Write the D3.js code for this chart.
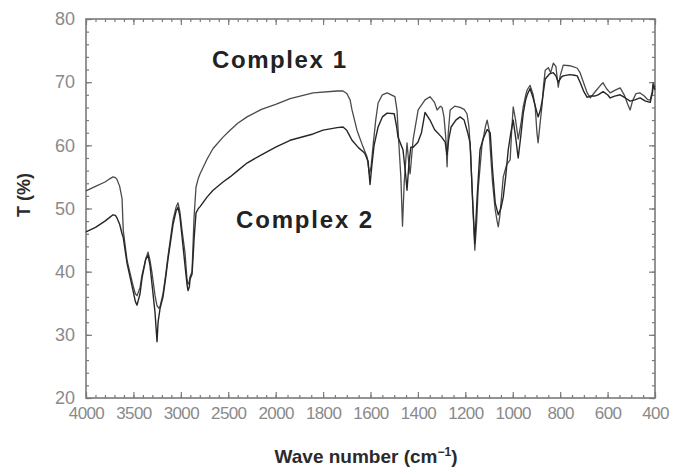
<!DOCTYPE html>
<html>
<head>
<meta charset="utf-8">
<script src="https://cdn.jsdelivr.net/npm/d3@7"></script>
<style>
  body { margin: 0; background: #fff; }
  svg { display: block; }
</style>
</head>
<body>
<svg id="chart" width="677" height="474"></svg>
<script>
// Axis ticks
const xTickLabels = [4000, 3500, 3000, 2500, 2000, 1800, 1600, 1400, 1200, 1000, 800, 600, 400];
const yTickLabels = [20, 30, 40, 50, 60, 70, 80];
const seriesNames = ["Complex 1", "Complex 2"];

// IR transmittance spectra: [wave number (cm-1), T (%)]
const complex1 = [
  [4000,52.8],[3900,53.5],[3800,54.2],[3750,54.7],[3715,55.0],[3690,54.9],[3673,54.6],[3645,53.5],
  [3620,51.6],[3607,46.5],[3567,41.8],[3504,37.8],[3480,36.5],[3462,36.2],[3430,37.5],[3409,39.5],
  [3370,42],[3346,43.1],[3325,41.8],[3304,39.8],[3272,36.2],[3251,34.6],[3230,34.2],[3219,34.5],
  [3188,36.5],[3160,39.5],[3135,42.5],[3082,48.2],[3050,50.2],[3030,50.9],[3010,49.5],[2987,46.5],
  [2956,43],[2935,38.8],[2924,38],[2910,38.5],[2903,39.2],[2882,40],[2872,44],[2861,48.5],
  [2840,53.4],[2815,54.8],[2797,55.5],[2724,57.8],[2660,59.5],[2555,61.3],[2481,62.4],[2400,63.5],
  [2302,64.5],[2150,65.7],[2000,66.5],[1939,67.4],[1842,68.3],[1741,68.6],[1716,68.6],[1700,68.2],
  [1686,67.2],[1678,65.6],[1657,62.4],[1632,59.8],[1615,58.2],[1605,55.5],[1598,56.5],[1589,60],
  [1578,64],[1568,66.7],[1550,68],[1530,68.3],[1497,67.7],[1488,65.5],[1480,60],[1472,55],
  [1465,47.2],[1458,54],[1446,60.4],[1438,57],[1433,55.5],[1427,58],[1420,61],[1399,65.6],
  [1370,67.2],[1349,67.7],[1330,66.8],[1319,65.6],[1305,66.2],[1298,66],[1290,64.5],[1282,61],
  [1277,56.6],[1272,62],[1264,65.6],[1245,66.2],[1222,66],[1205,65.7],[1193,65],[1185,63],
  [1178,59],[1168,50],[1160,43.4],[1152,48],[1146,53],[1130,60],[1115,63],[1108,64],
  [1100,62.5],[1095,59.5],[1085,54],[1074,49.8],[1066,48],[1061,47.1],[1054,49],[1040,55],
  [1025,57],[1011,57.7],[1005,62],[998,66.1],[988,64],[977,61],[965,63.5],[956,66.1],
  [945,68],[939,68.8],[927,69.5],[914,68],[905,66],[898,62],[893,60.4],[886,63],
  [876,66.5],[870,69.5],[863,71.9],[850,72.3],[840,71.5],[829,73],[818,72.5],[808,69.2],
  [800,71],[787,72.7],[760,72.6],[740,72.4],[728,72.2],[716,71.5],[700,69.8],[686,68.3],
  [673,67.5],[650,68.6],[630,69.5],[619,69.9],[605,69],[589,68.3],[570,68.7],[547,69.1],
  [530,68],[515,66.5],[505,65.6],[495,67],[480,68.2],[463,68.3],[445,67.8],[430,67.2],
  [420,67.2],[412,68.5],[408,69.9],[400,69.2]
];

const complex2 = [
  [4000,46.3],[3900,47],[3800,48],[3750,48.6],[3715,49],[3690,48.9],[3673,48.5],[3645,47.5],
  [3620,46],[3607,45.4],[3567,41.3],[3504,37],[3480,35.3],[3462,34.7],[3430,36.5],[3409,39],
  [3370,42],[3346,42.6],[3325,41],[3304,38],[3272,33.5],[3251,28.9],[3240,32],[3219,34.2],
  [3188,36],[3160,39],[3135,42],[3082,47.5],[3050,49.6],[3030,50.2],[3010,48.8],[2987,45.5],
  [2956,41],[2935,38],[2924,37],[2910,37.6],[2903,38.8],[2882,39.6],[2872,42],[2861,45],
  [2840,49.3],[2815,50],[2797,50.3],[2724,51.8],[2660,52.9],[2555,54.2],[2481,55],[2400,56],
  [2302,57.2],[2150,58.5],[2000,59.7],[1939,60.8],[1842,61.8],[1800,62.4],[1741,62.8],[1716,62.9],
  [1700,62.4],[1695,62],[1678,60.8],[1650,59.6],[1625,58.8],[1610,57.5],[1602,53.8],[1595,56.6],
  [1585,60],[1568,62.9],[1550,64.5],[1530,65.1],[1500,65],[1490,63],[1484,61.3],[1463,59.3],
  [1452,55.5],[1446,52.9],[1438,57],[1430,59.7],[1420,59.7],[1400,60.5],[1385,62],[1370,65.2],
  [1349,64],[1330,62.5],[1300,61.3],[1285,60.5],[1277,58.5],[1270,61],[1260,62.9],[1240,64],
  [1222,64.5],[1205,64],[1190,62],[1180,60.4],[1170,52],[1160,44.5],[1150,52],[1138,59.3],
  [1125,61],[1108,62.5],[1095,62],[1085,56],[1074,50.9],[1061,49],[1050,50],[1040,51.8],
  [1030,55],[1019,59.3],[1008,62],[998,64],[987,61],[977,58],[966,61.5],[956,65],
  [945,67.3],[939,68],[927,69],[914,67.5],[900,65.5],[893,64.5],[884,65.5],[876,67],
  [863,70.5],[845,71.3],[829,71.5],[818,71],[808,70],[795,70.8],[787,71],[760,71.2],
  [740,71.1],[728,71],[716,70],[700,68.5],[686,67.6],[673,67.8],[655,67.8],[640,68],
  [619,68.5],[600,68],[589,67.5],[570,67.8],[547,68],[525,67.5],[505,67],[485,67.2],
  [463,67.5],[440,67],[420,66.8],[410,68.5],[408,69.5],[400,68.8]
];

const svg = d3.select("#chart");
const plotLeft = 86, plotRight = 655, plotTop = 19, plotBottom = 398;
const axisColor = "#7a7a7a";
const tickFont = "'Liberation Sans', Arial, sans-serif";

// Wave number axis changes scale at 2000 cm-1
const x = d3.scaleLinear()
  .domain([4000, 2000, 400])
  .range([plotLeft, plotLeft + (plotRight - plotLeft) * 4 / 12, plotRight]);
const y = d3.scaleLinear().domain([20, 80]).range([plotBottom, plotTop]);

// Minor ticks
const xMinor = d3.range(4000, 2000, -100).concat(d3.range(2000, 399, -50));
const yMinor = d3.range(20, 81, 2);

const frame = svg.append("g");

function styleAxis(g) {
  g.select(".domain").remove();
  g.selectAll("line").attr("stroke", axisColor).attr("stroke-width", 1.2);
}

// bottom
frame.append("g").attr("transform", `translate(0,${plotBottom})`)
  .call(d3.axisBottom(x).tickValues(xMinor).tickSize(-3).tickFormat(""))
  .call(styleAxis);
frame.append("g").attr("transform", `translate(0,${plotBottom})`)
  .call(d3.axisBottom(x).tickValues(xTickLabels).tickSize(-6).tickPadding(9).tickFormat(d3.format("d")))
  .call(styleAxis)
  .call(g => g.selectAll("text")
    .attr("fill", "#8a8a8a").attr("font-family", tickFont).attr("font-size", 17)
    .attr("letter-spacing", -0.6));
// top
frame.append("g").attr("transform", `translate(0,${plotTop})`)
  .call(d3.axisTop(x).tickValues(xMinor).tickSize(-3).tickFormat(""))
  .call(styleAxis);
frame.append("g").attr("transform", `translate(0,${plotTop})`)
  .call(d3.axisTop(x).tickValues(xTickLabels).tickSize(-6).tickFormat(""))
  .call(styleAxis);
// left
frame.append("g").attr("transform", `translate(${plotLeft},0)`)
  .call(d3.axisLeft(y).tickValues(yMinor).tickSize(-3).tickFormat(""))
  .call(styleAxis);
frame.append("g").attr("transform", `translate(${plotLeft},0)`)
  .call(d3.axisLeft(y).tickValues(yTickLabels).tickSize(-6).tickPadding(11).tickFormat(d3.format("d")))
  .call(styleAxis)
  .call(g => g.selectAll("text")
    .attr("fill", "#8a8a8a").attr("font-family", tickFont).attr("font-size", 18));
// right
frame.append("g").attr("transform", `translate(${plotRight},0)`)
  .call(d3.axisRight(y).tickValues(yMinor).tickSize(-3).tickFormat(""))
  .call(styleAxis);
frame.append("g").attr("transform", `translate(${plotRight},0)`)
  .call(d3.axisRight(y).tickValues(yTickLabels).tickSize(-6).tickFormat(""))
  .call(styleAxis);

frame.append("rect")
  .attr("x", plotLeft).attr("y", plotTop)
  .attr("width", plotRight - plotLeft).attr("height", plotBottom - plotTop)
  .attr("fill", "none").attr("stroke", axisColor).attr("stroke-width", 1.6);

// Spectra
const line = d3.line().x(d => x(d[0])).y(d => y(d[1]));
svg.append("path").datum(complex1)
  .attr("d", line).attr("fill", "none")
  .attr("stroke", "#4a4a4a").attr("stroke-width", 1.3).attr("stroke-linejoin", "round");
svg.append("path").datum(complex2)
  .attr("d", line).attr("fill", "none")
  .attr("stroke", "#262626").attr("stroke-width", 1.4).attr("stroke-linejoin", "round");

// Series labels
const labelFont = "'Liberation Sans', Arial, sans-serif";
svg.append("text").attr("x", 212).attr("y", 68)
  .attr("font-family", labelFont).attr("font-size", 24).attr("font-weight", "bold")
  .attr("fill", "#222").attr("textLength", 134).attr("lengthAdjust", "spacing")
  .text(seriesNames[0]);
svg.append("text").attr("x", 236).attr("y", 228)
  .attr("font-family", labelFont).attr("font-size", 24).attr("font-weight", "bold")
  .attr("fill", "#222").attr("textLength", 136).attr("lengthAdjust", "spacing")
  .text(seriesNames[1]);

// Axis titles
const xt = svg.append("text").attr("x", 366).attr("y", 463)
  .attr("text-anchor", "middle")
  .attr("font-family", labelFont).attr("font-size", 19).attr("font-weight", "bold")
  .attr("fill", "#2a2a2a");
xt.append("tspan").text("Wave number (cm");
xt.append("tspan").attr("font-size", 12).attr("dy", -7).text("\u22121");
xt.append("tspan").attr("dy", 7).text(")");

svg.append("text")
  .attr("transform", "translate(30,195) rotate(-90)")
  .attr("text-anchor", "middle")
  .attr("font-family", labelFont).attr("font-size", 18).attr("font-weight", "bold")
  .attr("fill", "#2a2a2a")
  .text("T (%)");
</script>
</body>
</html>
